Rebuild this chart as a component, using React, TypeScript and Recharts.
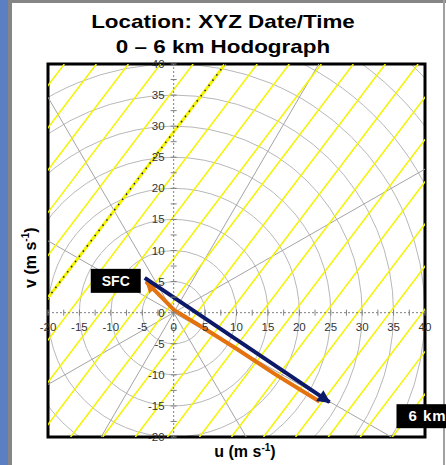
import {
  ComposedChart,
  XAxis,
  YAxis,
  Line,
  ReferenceLine,
  ReferenceDot,
  ReferenceArea,
  usePlotArea,
} from 'recharts';

const U_DOMAIN = [-20, 40];
const V_DOMAIN = [-20, 40];
const TICK_LABELS = [-20, -15, -10, -5, 0, 5, 10, 15, 20, 25, 30, 35, 40];
const TICK_MARKS = [
  -20, -17.5, -15, -12.5, -10, -7.5, -5, -2.5, 0, 2.5, 5, 7.5, 10, 12.5, 15, 17.5, 20, 22.5, 25, 27.5, 30, 32.5, 35,
  37.5, 40,
];
const RING_RADII = [5, 10, 15, 20, 25, 30, 35, 40, 45, 50, 55];
const RADIAL_ANGLES = [30, 60, 120, 150, 210, 240, 300, 330];
// u where each yellow line crosses the top edge (v = 40); slope 4/3
const YELLOW_TOPS = [
  -17.4, -12.3, -7.2, -2.1, 3.1, 13.3, 18.4, 23.5, 28.6, 33.7, 38.9, 44.0, 49.1, 54.2, 59.3, 64.4, 69.6, 74.7, 79.8,
];
const DASHED_TOP = 8.2;
const YELLOW_SLOPE = 4 / 3;

const hodograph = [
  { u: -4.4, v: 5.0 },
  { u: 0.1, v: 0.4 },
  { u: 4.5, v: -2.3 },
  { u: 10, v: -5.8 },
  { u: 16, v: -9.8 },
  { u: 23.2, v: -14.3 },
];
const shearVector = [
  { u: -4.6, v: 5.6 },
  { u: 24.8, v: -14.4 },
];

const NAVY = '#0c1868';
const ORANGE = '#e3720f';
const FONT = 'Arial, "Liberation Sans", sans-serif';

function Rings() {
  const plot = usePlotArea();
  if (!plot) return null;
  const kx = plot.width / (U_DOMAIN[1] - U_DOMAIN[0]);
  const ky = plot.height / (V_DOMAIN[1] - V_DOMAIN[0]);
  const cx = plot.x - U_DOMAIN[0] * kx;
  const cy = plot.y + V_DOMAIN[1] * ky;
  return (
    <g>
      <defs>
        <clipPath id="ringClip">
          <rect x={plot.x} y={plot.y} width={plot.width} height={plot.height} />
        </clipPath>
      </defs>
      <g clipPath="url(#ringClip)">
        {RING_RADII.map((r) => (
          <ellipse key={r} cx={cx} cy={cy} rx={r * kx} ry={r * ky} fill="none" stroke="#b8b8b8" strokeWidth={1} />
        ))}
      </g>
    </g>
  );
}

export default function App() {
  return (
    <div style={{ position: 'absolute', left: 0, top: 0, width: 446, height: 465, overflow: 'hidden', background: '#fff', fontFamily: FONT }}>
      <div style={{ position: 'absolute', left: 0, top: 0, width: 8, height: 465, background: '#5a7fc2' }} />
      <div style={{ position: 'absolute', left: 8, top: 0, width: 4, height: 465, background: '#858585' }} />
      <div style={{ position: 'absolute', left: 8, top: 0, width: 438, height: 3, background: '#858585' }} />
      <div style={{ position: 'absolute', left: 443, top: 0, width: 2, height: 465, background: '#a0a0a0' }} />

      <ComposedChart
        width={446}
        height={465}
        margin={{ top: 64, right: 21, bottom: 28, left: 48 }}
        style={{ position: 'absolute', left: 0, top: 0, overflow: 'visible' }}
      >
        <defs>
          <marker id="navyHead" viewBox="0 0 10 10" refX="9" refY="5" markerWidth="16" markerHeight="13" markerUnits="userSpaceOnUse" orient="auto">
            <path d="M0,0 L10,5 L0,10 z" fill={NAVY} />
          </marker>
          <marker id="orangeHead" viewBox="0 0 10 10" refX="9" refY="5" markerWidth="13" markerHeight="12" markerUnits="userSpaceOnUse" orient="auto-start-reverse">
            <path d="M0,0 L10,5 L0,10 z" fill={ORANGE} />
          </marker>
        </defs>
        <XAxis type="number" dataKey="u" domain={U_DOMAIN} hide allowDataOverflow />
        <YAxis type="number" dataKey="v" domain={V_DOMAIN} hide allowDataOverflow />
        <Rings />

        {RADIAL_ANGLES.map((a) => (
          <ReferenceLine
            key={'rad' + a}
            segment={[
              { x: 0, y: 0 },
              { x: 90 * Math.cos((a * Math.PI) / 180), y: 90 * Math.sin((a * Math.PI) / 180) },
            ]}
            stroke="#a4a4a4"
            strokeWidth={1}
            ifOverflow="hidden"
          />
        ))}

        {YELLOW_TOPS.map((t) => (
          <ReferenceLine
            key={'y' + t}
            segment={[
              { x: t, y: V_DOMAIN[1] },
              { x: t - (V_DOMAIN[1] - V_DOMAIN[0]) / YELLOW_SLOPE, y: V_DOMAIN[0] },
            ]}
            stroke="#f4f400"
            strokeWidth={1.5}
            ifOverflow="hidden"
          />
        ))}
        <ReferenceLine
          segment={[
            { x: DASHED_TOP, y: V_DOMAIN[1] },
            { x: DASHED_TOP - (V_DOMAIN[1] - V_DOMAIN[0]) / YELLOW_SLOPE, y: V_DOMAIN[0] },
          ]}
          stroke="#f4f400"
          strokeWidth={3}
          ifOverflow="hidden"
        />
        <ReferenceLine
          segment={[
            { x: DASHED_TOP, y: V_DOMAIN[1] },
            { x: DASHED_TOP - (V_DOMAIN[1] - V_DOMAIN[0]) / YELLOW_SLOPE, y: V_DOMAIN[0] },
          ]}
          stroke="#1a1a40"
          strokeWidth={1.5}
          strokeDasharray="1.5 5"
          ifOverflow="hidden"
        />

        <ReferenceLine x={0} stroke="#808080" strokeDasharray="2 2" strokeWidth={1} />
        <ReferenceLine y={0} stroke="#808080" strokeDasharray="2 2" strokeWidth={1} />

        {TICK_MARKS.map((t) => (
          <ReferenceDot
            key={'tu' + t}
            x={t}
            y={0}
            r={0}
            shape={(p: any) => <line x1={p.cx} x2={p.cx} y1={p.cy - 3} y2={p.cy + 3} stroke="#808080" strokeWidth={1} />}
          />
        ))}
        {TICK_MARKS.map((t) => (
          <ReferenceDot
            key={'tv' + t}
            x={0}
            y={t}
            r={0}
            shape={(p: any) => <line x1={p.cx - 3} x2={p.cx + 3} y1={p.cy} y2={p.cy} stroke="#808080" strokeWidth={1} />}
          />
        ))}

        <Line
          data={hodograph}
          dataKey="v"
          type="linear"
          stroke={ORANGE}
          strokeWidth={4}
          dot={false}
          isAnimationActive={false}
          markerStart="url(#orangeHead)"
        />
        <Line
          data={shearVector}
          dataKey="v"
          type="linear"
          stroke={NAVY}
          strokeWidth={4}
          dot={false}
          isAnimationActive={false}
          markerEnd="url(#navyHead)"
        />

        <ReferenceArea x1={U_DOMAIN[0]} x2={U_DOMAIN[1]} y1={V_DOMAIN[0]} y2={V_DOMAIN[1]} fill="none" fillOpacity={0} stroke="#000" strokeWidth={3} />

        {TICK_LABELS.map((t) => (
          <ReferenceDot
            key={'lu' + t}
            x={t}
            y={0}
            r={0}
            shape={(p: any) => (
              <text x={p.cx} y={p.cy + 18} textAnchor="middle" fontSize={11.5} fill="#333" fontFamily={FONT}>
                {t}
              </text>
            )}
          />
        ))}
        {TICK_LABELS.map((t) => (
          <ReferenceDot
            key={'lv' + t}
            x={0}
            y={t}
            r={0}
            shape={(p: any) => (
              <text x={p.cx - 9} y={p.cy + 4} textAnchor="end" fontSize={11.5} fill="#333" fontFamily={FONT}>
                {t}
              </text>
            )}
          />
        ))}

        <ReferenceDot
          x={shearVector[0].u}
          y={shearVector[0].v}
          r={0}
          shape={(p: any) => (
            <g>
              <rect x={p.cx - 54} y={p.cy - 9} width={50} height={24} fill="#000" />
              <text x={p.cx - 29} y={p.cy + 8} textAnchor="middle" fontSize={14} fontWeight="bold" fill="#fff" fontFamily={FONT}>
                SFC
              </text>
            </g>
          )}
        />
        <ReferenceDot
          x={shearVector[1].u}
          y={shearVector[1].v}
          r={0}
          shape={(p: any) => (
            <g>
              <rect x={p.cx + 67} y={p.cy + 2} width={70} height={24} fill="#000" />
              <text x={p.cx + 79} y={p.cy + 19} fontSize={15} letterSpacing={1} fontWeight="bold" fill="#fff" fontFamily={FONT}>
                6 km
              </text>
            </g>
          )}
        />
      </ComposedChart>

      <div style={{ position: 'absolute', left: 0, width: 446, top: 9, textAlign: 'center', fontWeight: 'bold', fontSize: 19, lineHeight: '25px', color: '#000' }}>
        <div style={{ transform: 'scaleX(1.18)' }}>Location: XYZ Date/Time</div>
        <div style={{ transform: 'scaleX(1.18)' }}>0 – 6 km Hodograph</div>
      </div>
      <div style={{ position: 'absolute', left: 195, width: 100, top: 442, textAlign: 'center', fontWeight: 'bold', fontSize: 16, color: '#000' }}>
        u (m s<sup style={{ fontSize: 10 }}>-1</sup>)
      </div>
      <div
        style={{
          position: 'absolute',
          left: -20,
          width: 100,
          top: 248,
          textAlign: 'center',
          fontWeight: 'bold',
          fontSize: 16,
          color: '#000',
          transform: 'rotate(-90deg)',
        }}
      >
        v (m s<sup style={{ fontSize: 10 }}>-1</sup>)
      </div>
    </div>
  );
}
